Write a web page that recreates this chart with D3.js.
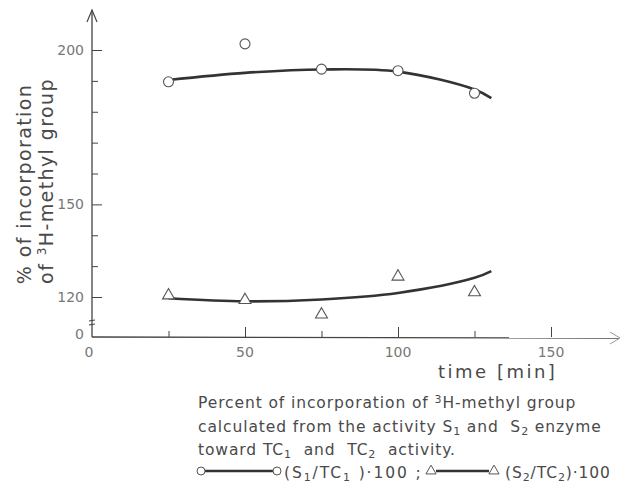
<!DOCTYPE html>
<html><head><meta charset="utf-8">
<script src="https://cdn.jsdelivr.net/npm/d3@7"></script>
<style>
html,body{margin:0;padding:0;background:#fff;}
svg text{font-family:"DejaVu Sans",sans-serif;fill:#4a4a4a;white-space:pre;}
</style></head>
<body><svg id="c" width="623" height="485"></svg>
<script>
// ---- data ----
const times = [25, 50, 75, 100, 125];
const s1Values = [189.7, 202, 193.8, 193.3, 186];       // (S1/TC1)·100 circles
const s2Values = [120.5, 119, 114.3, 126.6, 121.5];     // (S2/TC2)·100 triangles
const fitTimes = [25, 50, 75, 100, 125, 130.5];
const s1Fit = [190.3, 192.6, 193.7, 193.0, 187.2, 184.4];
const s2Fit = [119.6, 118.6, 119.2, 121.3, 126.2, 128.4];
const xTickLabels = [0, 50, 100, 150];
const xMinorTicks = [25, 75, 125];
const yTickLabels = [120, 150, 200];
const yMinorTicks = [130, 140, 160, 170, 180, 190];

const svg = d3.select("#c");
const x = d3.scaleLinear().domain([0, 150]).range([92, 551]);
const y = d3.scaleLinear().domain([120, 200]).range([297, 50]);
const axisY = 337, axisX = 92;
const ink = "#444";

// x axis line + arrow
svg.append("path").attr("d", `M${axisX},${axisY}L619,${axisY+1}`).attr("stroke", ink).attr("stroke-width", 1.3).attr("fill","none");
svg.append("path").attr("d", `M610,${axisY-5}L620,${axisY+1}L610,${axisY+7}`).attr("stroke", "#999").attr("stroke-width", 1).attr("fill","none");
// y axis line + arrow
svg.append("path").attr("d", `M${axisX},${axisY}L${axisX},10`).attr("stroke", ink).attr("stroke-width", 1.3).attr("fill","none");
svg.append("path").attr("d", `M${axisX-5},22L${axisX},10L${axisX+5},22`).attr("stroke", ink).attr("stroke-width", 1.2).attr("fill","none");
// axis break
svg.append("path").attr("d", `M${axisX-3},321L${axisX+3},320M${axisX-3},325L${axisX+3},324`).attr("stroke", ink).attr("stroke-width", 1.2);

// x axis ticks
const gx = svg.append("g").attr("transform", `translate(0,${axisY})`);
gx.call(d3.axisBottom(x).tickValues(xTickLabels.filter(d => d > 0)).tickSize(-10).tickFormat(""))
  .call(g => g.select(".domain").remove());
gx.append("g").call(d3.axisBottom(x).tickValues(xMinorTicks).tickSize(-6).tickFormat(""))
  .call(g => g.select(".domain").remove());
gx.selectAll("line").attr("stroke", ink);
svg.selectAll(".xlab").data(xTickLabels).join("text").attr("class","xlab")
  .attr("x", d => d === 0 ? x(d) - 3 : x(d)).attr("y", 357).attr("text-anchor", "middle")
  .attr("font-size", 14).style("fill","#777").text(d => d);

// y axis ticks
const gy = svg.append("g").attr("transform", `translate(${axisX},0)`);
gy.call(d3.axisLeft(y).tickValues(yTickLabels).tickSize(-10).tickPadding(8))
  .call(g => g.select(".domain").remove());
gy.append("g").call(d3.axisLeft(y).tickValues(yMinorTicks).tickSize(-6).tickFormat(""))
  .call(g => g.select(".domain").remove());
gy.selectAll("line").attr("stroke", ink);
gy.selectAll("text").attr("font-size", 14).style("fill","#777").attr("font-family", null);
svg.append("text").attr("x", 84).attr("y", 339).attr("text-anchor","end").attr("font-size",14).style("fill","#777").text("0");

// y axis title
const yt = svg.append("g").attr("transform", "translate(0,184) rotate(-90)");
yt.append("text").attr("x", 0).attr("y", 31).attr("text-anchor","middle").attr("font-size", 19).attr("letter-spacing", 1.4).text("% of incorporation");
const yt2 = yt.append("text").attr("x", 3).attr("y", 53).attr("text-anchor","middle").attr("font-size", 19).attr("letter-spacing", 1.4);
yt2.append("tspan").text("of ");
yt2.append("tspan").attr("dy", -7).attr("font-size", 12).text("3");
yt2.append("tspan").attr("dy", 7).text("H-methyl group");

// x title
svg.append("text").attr("x", 438).attr("y", 378).attr("font-size", 18).attr("letter-spacing", 2.5).text("time [min]");

// fitted curves
const line = d3.line().x((d,i) => x(fitTimes[i])).y(d => y(d)).curve(d3.curveCatmullRom.alpha(0.5));
[s1Fit, s2Fit].forEach(f => svg.append("path").attr("d", line(f)).attr("fill","none").attr("stroke","#333").attr("stroke-width", 2.6));

// markers
svg.selectAll(".c1").data(s1Values).join("circle").attr("class","c1")
  .attr("cx", (d,i) => x(times[i])).attr("cy", d => y(d)).attr("r", 5)
  .attr("fill","#fff").attr("stroke","#555").attr("stroke-width",1.1);
const tri = d3.symbol().type(d3.symbolTriangle).size(62);
svg.selectAll(".t2").data(s2Values).join("path").attr("class","t2")
  .attr("transform", (d,i) => `translate(${x(times[i])},${y(d)})`).attr("d", tri())
  .attr("fill","#fff").attr("stroke","#555").attr("stroke-width",1.1);

// caption
const cap = svg.append("g").attr("font-size", 15.5).attr("letter-spacing", 0.9);
// parts: strings are normal text, {s:..} subscript, {u:..} superscript
function rich(t, parts){
  let shift = 0;
  parts.forEach(p => {
    let target = 0, txt = p, small = false;
    if (typeof p === "object") { target = p.s ? 3 : -5; txt = p.s || p.u; small = true; }
    const sp = t.append("tspan").attr("dy", target - shift).text(txt);
    if (small) sp.attr("font-size", 11);
    shift = target;
  });
}
rich(cap.append("text").attr("x", 198).attr("y", 408), ["Percent of incorporation of ", {u:"3"}, "H-methyl group"]);
rich(cap.append("text").attr("x", 198).attr("y", 432), ["calculated from the activity S", {s:"1"}, " and  S", {s:"2"}, " enzyme"]);
rich(cap.append("text").attr("x", 198).attr("y", 455), ["toward TC", {s:"1"}, "  and  TC", {s:"2"}, "  activity."]);

// legend
const ly = 471;
svg.append("line").attr("x1", 205).attr("x2", 273).attr("y1", ly).attr("y2", ly).attr("stroke","#333").attr("stroke-width", 2.4);
[201, 277].forEach(cx => svg.append("circle").attr("cx", cx).attr("cy", ly).attr("r", 4).attr("fill","#fff").attr("stroke","#555"));
rich(cap.append("text").attr("x", 284).attr("y", 478).attr("letter-spacing", 1.9), ["(S", {s:"1"}, "/TC", {s:"1"}, " )·100 ;"]);
svg.append("line").attr("x1", 436).attr("x2", 489).attr("y1", ly).attr("y2", ly).attr("stroke","#333").attr("stroke-width", 2.4);
[431, 494].forEach(cx => svg.append("path").attr("transform", `translate(${cx},${ly})`).attr("d", d3.symbol().type(d3.symbolTriangle).size(45)()).attr("fill","#fff").attr("stroke","#555"));
rich(cap.append("text").attr("x", 505).attr("y", 478), ["(S", {s:"2"}, "/TC", {s:"2"}, ")·100"]);
</script></body></html>
